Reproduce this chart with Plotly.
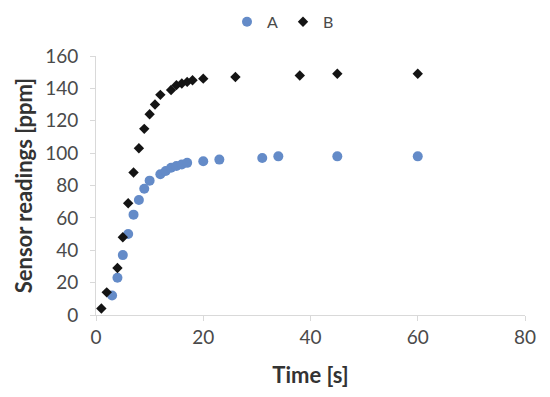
import plotly.graph_objects as go

time_a = [3, 4, 5, 6, 7, 8, 9, 10, 12, 13, 14, 15, 16, 17, 20, 23, 31, 34, 45, 60]
vals_a = [12, 23, 37, 50, 62, 71, 78, 83, 87, 89, 91, 92, 93, 94, 95, 96, 97, 98, 98, 98]

time_b = [1, 2, 4, 5, 6, 7, 8, 9, 10, 11, 12, 14, 15, 16, 17, 18, 20, 26, 38, 45, 60]
vals_b = [4, 14, 29, 48, 69, 88, 103, 115, 124, 130, 136, 139, 142, 143, 144, 145, 146, 147, 148, 149, 149]

x_ticks = [0, 20, 40, 60, 80]
y_ticks = [0, 20, 40, 60, 80, 100, 120, 140, 160]

FONT = "Lato, 'Open Sans', sans-serif"

fig = go.Figure()
fig.add_trace(go.Scatter(
    x=time_a, y=vals_a, mode="markers", name="A",
    marker=dict(symbol="circle", size=10, color="#648BC8"),
))
fig.add_trace(go.Scatter(
    x=time_b, y=vals_b, mode="markers", name="B",
    marker=dict(symbol="diamond", size=8, color="#141414"),
))

fig.update_layout(
    width=550, height=397,
    margin=dict(l=88, r=33, t=48, b=90),
    paper_bgcolor="white", plot_bgcolor="white",
    font=dict(family=FONT, color="#4a4a4a", size=16),
    showlegend=True,
    legend=dict(
        orientation="h", xref="container", yref="container",
        x=0.5, xanchor="center", y=0.965, yanchor="middle",
        font=dict(size=16, color="#4a4a4a"),
        itemwidth=30, tracegroupgap=0,
    ),
    xaxis=dict(
        range=[0, 80], tickvals=x_ticks, showgrid=False, zeroline=False,
        showline=True, linecolor="#d9d9d9", linewidth=1, automargin=False,
        ticks="outside", ticklen=5, tickcolor="#d9d9d9",
        tickfont=dict(size=19, color="#4a4a4a"),
        title=dict(text="<b>Time [s]</b>", font=dict(size=22, color="#333333"), standoff=20),
    ),
    yaxis=dict(
        range=[0, 160], tickvals=y_ticks, showgrid=False, zeroline=False,
        showline=True, linecolor="#d9d9d9", linewidth=1, automargin=False,
        ticks="outside", ticklen=5, tickcolor="#d9d9d9", ticklabelstandoff=8,
        tickfont=dict(size=19, color="#4a4a4a"),
        title=dict(text="<b>Sensor readings [ppm]</b>", font=dict(size=22, color="#333333"), standoff=6),
    ),
)

fig.write_html("out.html")
